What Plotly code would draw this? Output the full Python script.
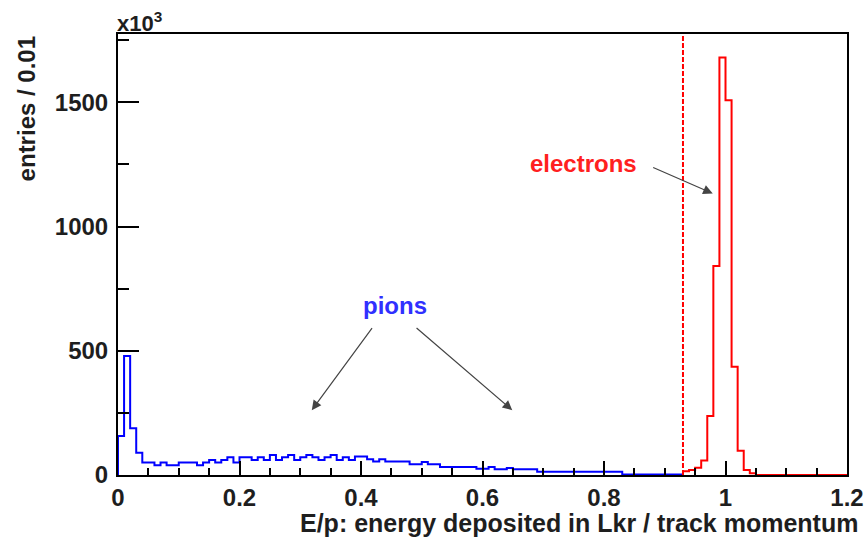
import plotly.graph_objects as go

# ---- data (entries per 0.01 bin, in units of 10^3) ----
bin_width = 0.01
pion_start = 0.0
pion_counts = [157, 479, 188, 90, 50, 50, 39, 50, 39, 39,
               50, 50, 50, 39, 50, 60, 50, 60, 71, 50,
               71, 71, 60, 71, 60, 80, 60, 71, 80, 60,
               71, 80, 71, 60, 71, 80, 60, 71, 60, 74,
               74, 63, 54, 63, 54, 54, 54, 54, 43, 43,
               52, 43, 43, 32, 32, 32, 32, 32, 32, 25,
               25, 32, 23, 23, 28, 23, 23, 23, 23, 13,
               13, 13, 13, 13, 13, 13, 13, 13, 13, 13,
               13, 13, 13, 2, 2, 2, 2, 2, 2, 2,
               2, 2, 2]
electron_start = 0.93
electron_counts = [15, 20, 29, 58, 237, 841, 1680, 1508, 436, 98,
                   20, 7, 0, 0, 0, 0, 0, 0, 0, 0,
                   0, 0, 0, 0, 0, 0, 0]
cut_value = 0.93
x_ticks = [0, 0.2, 0.4, 0.6, 0.8, 1.0, 1.2]
x_tick_labels = ["0", "0.2", "0.4", "0.6", "0.8", "1", "1.2"]
y_ticks = [0, 500, 1000, 1500]
y_tick_labels = ["0", "500", "1000", "1500"]


def step_xy(start, counts):
    xs = [start]
    ys = [0]
    for i, c in enumerate(counts):
        xs.append(round(start + i * bin_width, 4))
        ys.append(c)
    xs.append(round(start + len(counts) * bin_width, 4))
    ys.append(counts[-1])
    return xs, ys


px_, py_ = step_xy(pion_start, pion_counts)
ex_, ey_ = step_xy(electron_start, electron_counts)

FONT = "Liberation Sans"
TXT = "#1e1e1e"

fig = go.Figure()
fig.add_trace(go.Scatter(x=px_, y=py_, mode="lines", line=dict(color="#0000ff", width=2, shape="hv"),
                         name="pions", showlegend=False, hoverinfo="skip"))
fig.add_trace(go.Scatter(x=ex_, y=ey_, mode="lines", line=dict(color="#ff0000", width=2, shape="hv"),
                         name="electrons", showlegend=False, hoverinfo="skip"))

fig.add_shape(type="line", x0=cut_value, x1=cut_value, xref="x", yref="paper", y0=0, y1=1,
              line=dict(color="#ff0000", width=2, dash="5px,2px"))

axis_common = dict(showline=True, linecolor="black", linewidth=2, mirror=True, automargin=False,
                   showgrid=False, zeroline=False, ticks="inside", tickcolor="black",
                   tickwidth=2, tickfont=dict(family=FONT, size=24, color=TXT, weight="bold"))

fig.update_xaxes(range=[0, 1.2], tickvals=x_ticks, ticktext=x_tick_labels, ticklen=14,
                 minor=dict(ticks="inside", dtick=0.05, ticklen=7, tickcolor="black", tickwidth=2),
                 **axis_common)
fig.update_yaxes(range=[0, 1775], tickvals=y_ticks, ticktext=y_tick_labels, ticklen=21,
                 ticklabelstandoff=3,
                 minor=dict(ticks="inside", dtick=250, ticklen=11, tickcolor="black", tickwidth=2),
                 **axis_common)

fig.add_annotation(text="x10<sup>3</sup>", xref="paper", yref="paper", x=0, y=1, xanchor="left",
                   yanchor="bottom", showarrow=False,
                   font=dict(family=FONT, size=22, color=TXT, weight="bold"), xshift=-3, yshift=-4)
fig.add_annotation(text="entries / 0.01", xref="paper", yref="paper", x=-0.125, y=1.0,
                   xanchor="center", yanchor="top", textangle=-90, showarrow=False,
                   font=dict(family=FONT, size=24, color=TXT, weight="bold"))
fig.add_annotation(text="E/p: energy deposited in Lkr / track momentum", xref="paper", yref="paper",
                   x=1.018, y=-0.108, xanchor="right", yanchor="middle", showarrow=False,
                   font=dict(family=FONT, size=25, color=TXT, weight="bold"))

# labels and arrows
fig.add_annotation(text="pions", x=0.456, y=684, xref="x", yref="y", showarrow=False,
                   font=dict(family=FONT, size=24, color="#3030ff", weight="bold"))
fig.add_annotation(text="electrons", x=0.767, y=1255, xref="x", yref="y", showarrow=False,
                   font=dict(family=FONT, size=24, color="#ff2020", weight="bold"))
arrows = [((0.42, 597), (0.319, 261)), ((0.489, 597), (0.649, 261)), ((0.8785, 1240), (0.979, 1133))]
for (x0, y0), (x1, y1) in arrows:
    fig.add_annotation(x=x1, y=y1, ax=x0, ay=y0, xref="x", yref="y", axref="x", ayref="y",
                       text="", showarrow=True, arrowhead=2, arrowsize=1.6, arrowwidth=1.2,
                       arrowcolor="#444444")

fig.update_layout(width=866, height=537, margin=dict(l=118, r=19, t=34, b=62, autoexpand=False),
                  plot_bgcolor="white", paper_bgcolor="white")

fig.write_html("out.html", config={"displayModeBar": False},
               post_script="document.body.style.margin='0px';")
